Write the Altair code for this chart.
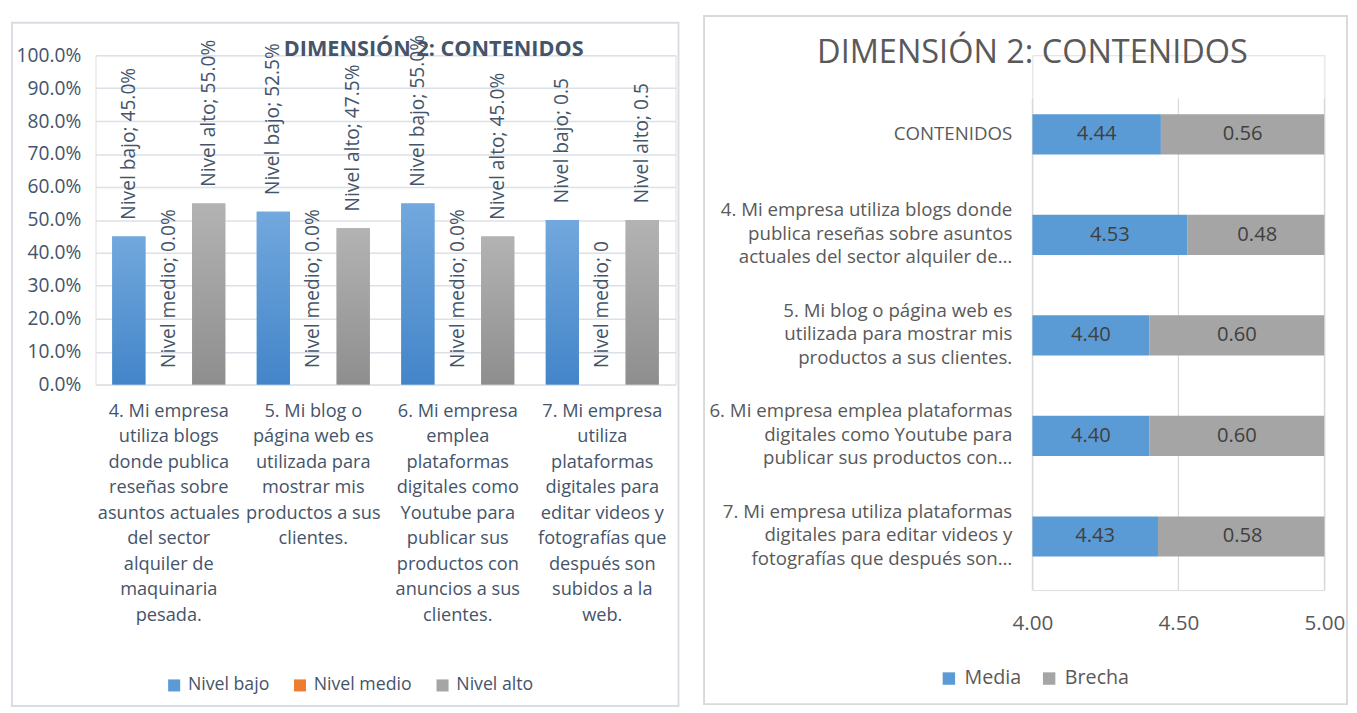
import altair as alt
import pandas as pd

# ---------------- left chart data ----------------
categorias = [
    "4. Mi empresa|utiliza blogs|donde publica|reseñas sobre|asuntos actuales|del sector|alquiler de|maquinaria|pesada.",
    "5. Mi blog o|página web es|utilizada para|mostrar mis|productos a sus|clientes.",
    "6. Mi empresa|emplea|plataformas|digitales como|Youtube para|publicar sus|productos con|anuncios a sus|clientes.",
    "7. Mi empresa|utiliza|plataformas|digitales para|editar videos y|fotografías que|después son|subidos a la|web.",
]
series = ["Nivel bajo", "Nivel medio", "Nivel alto"]
nivel_bajo = [0.45, 0.525, 0.55, 0.50]
nivel_medio = [0.0, 0.0, 0.0, 0.0]
nivel_alto = [0.55, 0.475, 0.45, 0.50]
etiq_bajo = ["Nivel bajo; 45.0%", "Nivel bajo; 52.5%", "Nivel bajo; 55.0%", "Nivel bajo; 0.5"]
etiq_medio = ["Nivel medio; 0.0%", "Nivel medio; 0.0%", "Nivel medio; 0.0%", "Nivel medio; 0"]
etiq_alto = ["Nivel alto; 55.0%", "Nivel alto; 47.5%", "Nivel alto; 45.0%", "Nivel alto; 0.5"]
ticks_izq = [0.0, 0.1, 0.2, 0.3, 0.4, 0.5, 0.6, 0.7, 0.8, 0.9, 1.0]
colores_izq = ["#5B9BD5", "#ED7D31", "#A5A5A5"]

# ---------------- right chart data ----------------
items = [
    "CONTENIDOS",
    "4. Mi empresa utiliza blogs donde|publica reseñas sobre asuntos|actuales del sector alquiler de…",
    "5. Mi blog o página web es|utilizada para mostrar mis|productos a sus clientes.",
    "6. Mi empresa emplea plataformas|digitales como Youtube para|publicar sus productos con…",
    "7. Mi empresa utiliza plataformas|digitales para editar videos y|fotografías que después son…",
]
media = [4.44, 4.53, 4.40, 4.40, 4.43]
brecha = [0.56, 0.48, 0.60, 0.60, 0.58]
tipos = ["Media", "Brecha"]
colores_der = ["#5B9BD5", "#A5A5A5"]
ticks_der = [4.0, 4.5, 5.0]

FONT = "Open Sans"
C_IZQ = "#44546A"
C_DER = "#595959"

# ---------------- left chart ----------------
rows = []
for i, c in enumerate(categorias):
    for s, vals, labs in zip(series, [nivel_bajo, nivel_medio, nivel_alto], [etiq_bajo, etiq_medio, etiq_alto]):
        rows.append({"cat": c, "serie": s, "valor": vals[i], "lbl": labs[i]})
df_izq = pd.DataFrame(rows)
uno = pd.DataFrame({"k": [0]})

x_izq = alt.X(
    "cat:N", sort=categorias, title=None,
    scale=alt.Scale(paddingInner=0.218, paddingOuter=0.116),
    axis=alt.Axis(labelExpr="split(datum.label, '|')", labelAngle=0, labelFontSize=18.5,
                  labelColor=C_IZQ, labelPadding=17, labelLimit=300, labelLineHeight=26,
                  ticks=False, domain=False, grid=False, labelFont=FONT),
)
xo_izq = alt.XOffset("serie:N", sort=series, scale=alt.Scale(domain=series, paddingInner=0.17, paddingOuter=0))
y_izq = alt.Y(
    "valor:Q", title=None, scale=alt.Scale(domain=[0, 1], nice=False),
    axis=alt.Axis(values=ticks_izq, format=".1%", labelFontSize=19.5, labelColor=C_IZQ,
                  labelPadding=15, ticks=False, domain=False, gridColor="#DCE0E7",
                  gridWidth=1.5, labelFont=FONT),
)

barras_izq = alt.Chart(df_izq).mark_bar().encode(
    x=x_izq, xOffset=xo_izq, y=y_izq,
    color=alt.Color("serie:N", sort=series,
                    scale=alt.Scale(domain=series, range=colores_izq),
                    legend=alt.Legend(orient="none", legendX=71, legendY=632, direction="horizontal",
                                      title=None, symbolType="square", symbolSize=150,
                                      symbolStrokeWidth=0, labelFontSize=18, labelColor=C_IZQ,
                                      labelFont=FONT, columnPadding=22, labelOffset=5)),
)


def grad(top, bottom):
    return alt.LinearGradient(
        gradient="linear", x1=0, x2=0, y1=0, y2=1,
        stops=[alt.GradientStop(color=top, offset=0), alt.GradientStop(color=bottom, offset=1)],
    )


capa_bajo = alt.Chart(df_izq).transform_filter(alt.datum.serie == "Nivel bajo").mark_bar(
    color=grad("#72A8DD", "#4385C9")
).encode(x=x_izq, xOffset=xo_izq, y=y_izq)
capa_alto = alt.Chart(df_izq).transform_filter(alt.datum.serie == "Nivel alto").mark_bar(
    color=grad("#B3B3B3", "#8E8E8E")
).encode(x=x_izq, xOffset=xo_izq, y=y_izq)

textos_izq = alt.Chart(df_izq).mark_text(
    angle=270, align="left", baseline="middle", dx=17, fontSize=19.5, color=C_IZQ, font=FONT
).encode(x=x_izq, xOffset=xo_izq, y=y_izq, text="lbl:N")

titulo_izq = alt.Chart(uno).mark_text(
    fontSize=22, fontWeight="bold", color=C_IZQ, font=FONT, align="center", baseline="middle"
).encode(x=alt.value(344), y=alt.value(-6), text=alt.value("DIMENSIÓN 2: CONTENIDOS"))

marco_izq = alt.Chart(uno).mark_rect(fill=None, stroke="#D9DDE3", strokeWidth=2).encode(
    x=alt.value(-85), x2=alt.value(593), y=alt.value(-33), y2=alt.value(662)
)

izq = alt.layer(marco_izq, barras_izq, capa_bajo, capa_alto, textos_izq, titulo_izq).properties(
    width=590, height=335
)

# ---------------- right chart ----------------
rows = []
for i, it in enumerate(items):
    rows.append({"item": it, "tipo": "Media", "ini": 0.0, "fin": media[i], "valor": media[i]})
    rows.append({"item": it, "tipo": "Brecha", "ini": media[i], "fin": media[i] + brecha[i], "valor": brecha[i]})
df_der = pd.DataFrame(rows)
df_ticks = pd.DataFrame({"ini": ticks_der})

y_der = alt.Y(
    "item:N", sort=items, title=None,
    scale=alt.Scale(range=[35, 535], paddingInner=0.6, paddingOuter=0.245),
    axis=alt.Axis(labelExpr="split(datum.label, '|')", labelFontSize=19, labelColor=C_DER,
                  labelPadding=21, labelLimit=400, labelLineHeight=24, ticks=False,
                  domain=False, grid=False, labelFont=FONT, labelAlign="right",
                  labelOffset={"condition": {"test": "datum.label == 'CONTENIDOS'", "value": 0},
                               "value": -25}),
)
eje_x_der = alt.Axis(values=ticks_der, format=".2f", labelFontSize=21, labelColor=C_DER,
                     labelPadding=23, ticks=False, domain=False, grid=False,
                     labelFont=FONT, labelFlush=False)
x_der = alt.X("ini:Q", title=None, scale=alt.Scale(domain=[4, 5], nice=False, zero=False), axis=eje_x_der)

rejilla_der = alt.Chart(df_ticks).mark_rule(color="#D9D9D9", strokeWidth=1.3).encode(
    x=x_der, y=alt.value(44), y2=alt.value(544)
)
barras_der = alt.Chart(df_der).mark_bar(clip=True).encode(
    y=y_der, x=x_der, x2="fin:Q",
    color=alt.Color("tipo:N", sort=tipos, scale=alt.Scale(domain=tipos, range=colores_der),
                    legend=alt.Legend(orient="none", legendX=-95, legendY=624, direction="horizontal",
                                      title=None, symbolType="square", symbolSize=160,
                                      symbolStrokeWidth=0, labelFontSize=20, labelColor=C_DER,
                                      labelFont=FONT, columnPadding=18, labelOffset=6)),
)
textos_der = alt.Chart(df_der).transform_calculate(
    medio="(max(datum.ini, 4) + datum.fin) / 2"
).mark_text(fontSize=20.5, color="#404040", font=FONT, baseline="middle", align="center").encode(
    y=alt.Y("item:N", sort=items), x=alt.X("medio:Q"), text=alt.Text("valor:Q", format=".2f")
)
titulo_der = alt.Chart(uno).mark_text(
    fontSize=33, color=C_DER, font=FONT, align="center", baseline="middle"
).encode(x=alt.value(0), y=alt.value(-2), text=alt.value("DIMENSIÓN 2: CONTENIDOS"))
marco_der = alt.Chart(uno).mark_rect(fill=None, stroke="#D9D9D9", strokeWidth=2).encode(
    x=alt.value(-334), x2=alt.value(320), y=alt.value(-40), y2=alt.value(660)
)

der = alt.layer(marco_der, rejilla_der, barras_der, textos_der, titulo_der).properties(
    width=297, height=544
)

chart = alt.hconcat(izq, der, spacing=22).resolve_scale(color="independent").properties(
    padding={"left": 2, "top": 0, "right": 0, "bottom": 0}
).configure_view(stroke=None).configure(font=FONT)

chart.save("out.html", embed_options={"renderer": "svg", "actions": False})
